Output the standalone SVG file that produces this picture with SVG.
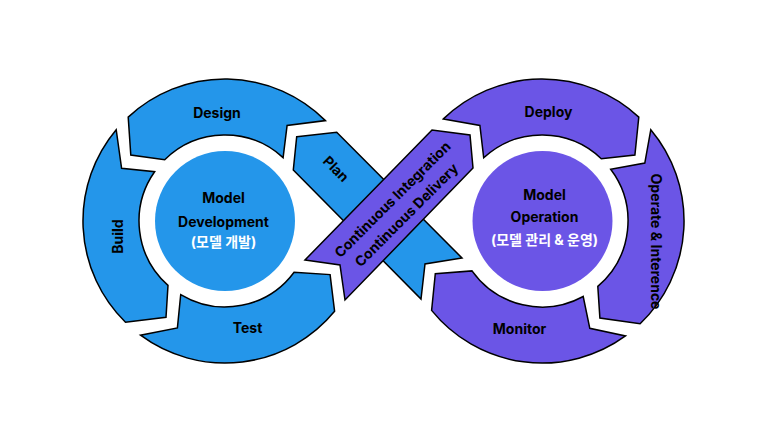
<svg xmlns="http://www.w3.org/2000/svg" width="766" height="441" viewBox="0 0 766 441">
  <style>
    .blue { fill: #2496EA; stroke: #000; stroke-width: 1.5; stroke-linejoin: miter; }
    .purple { fill: #6B55E6; stroke: #000; stroke-width: 1.5; stroke-linejoin: miter; }
    .hub-blue { fill: #2496EA; }
    .hub-purple { fill: #6B55E6; }
    .label { font-family: Inter, "Noto Sans CJK KR", sans-serif; font-weight: 700; font-size: 14px; fill: #000; text-anchor: middle; }
    .light { fill: #fff; }
  </style>
  <rect width="766" height="441" fill="#fff"/>

  <!-- Development loop (left, counter-clockwise) -->
  <g id="design">
    <path class="blue" d="M325.4,120.6 A142,142 0 0 0 128.2,117.1 L130.8,155.0 L164.7,159.7 A86,86 0 0 1 283.1,157.6 L287.1,125.4 Z"/>
    <text class="label" x="217" y="118">Design</text>
  </g>
  <g id="build">
    <path class="blue" d="M116.2,129.7 A142,142 0 0 0 125.5,322.3 L166.0,317.3 L168.0,285.4 A86,86 0 0 1 154.6,171.7 L121.6,168.3 Z"/>
    <text class="label" transform="translate(122.5,236.5) rotate(-90)">Build</text>
  </g>
  <g id="test">
    <path class="blue" d="M140.5,335.2 A142,142 0 0 0 334.6,311.3 L330.1,274.6 L294.1,272.2 A86,86 0 0 1 180.7,294.7 L177.4,327.9 Z"/>
    <text class="label" x="247.5" y="333">Test</text>
  </g>
  <g id="model-development">
    <circle class="hub-blue" cx="225" cy="221" r="70"/>
    <text class="label" x="223.5" y="203">Model</text>
    <text class="label" x="223.5" y="226.5">Development</text>
    <text class="label light" x="223.5" y="247">(모델 개발)</text>
  </g>

  <!-- Operation loop (right, clockwise) -->
  <g id="deploy">
    <path class="purple" d="M443.4,118.9 A142,142 0 0 1 638.8,117.1 L634.9,155.0 L601.3,158.7 A86,86 0 0 0 483.7,157.8 L479.9,125.4 Z"/>
    <text class="label" x="548.5" y="116.5">Deploy</text>
  </g>
  <g id="operate">
    <path class="purple" d="M650.8,129.7 A142,142 0 0 1 640.1,323.7 L599.9,318.1 L597.8,286.4 A86,86 0 0 0 610.7,169.2 L644.8,163.1 Z"/>
    <text class="label" transform="translate(650.5,241.5) rotate(90)">Operate &amp; Interence</text>
  </g>
  <g id="monitor">
    <path class="purple" d="M625.5,335.9 A142,142 0 0 1 431.6,310.4 L435.3,273.7 L472.0,270.9 A86,86 0 0 0 583.2,296.5 L589.8,328.3 Z"/>
    <text class="label" x="519.5" y="334">Monitor</text>
  </g>
  <g id="model-operation">
    <circle class="hub-purple" cx="542.5" cy="221" r="70"/>
    <text class="label" x="544.5" y="200">Model</text>
    <text class="label" x="544.5" y="222">Operation</text>
    <text class="label light" x="544.5" y="244.5">(모델 관리 &amp; 운영)</text>
  </g>

  <!-- Crossing bands between the two loops -->
  <g id="plan">
    <path class="blue" d="M296.7,136.7 L336.7,132.3 L462,258 L425,264 L421,299 L293.3,170 Z"/>
    <text class="label" transform="translate(332.5,172.5) rotate(45)">Plan</text>
  </g>
  <g id="ci-cd">
    <path class="purple" d="M305,260 L340,265 L345,300 L473,168 L470,135 L432,130 Z"/>
    <text class="label" transform="translate(396,203) rotate(-45)">Continuous Integration</text>
    <text class="label" transform="translate(410,218.5) rotate(-45)">Continuous Delivery</text>
  </g>
</svg>
